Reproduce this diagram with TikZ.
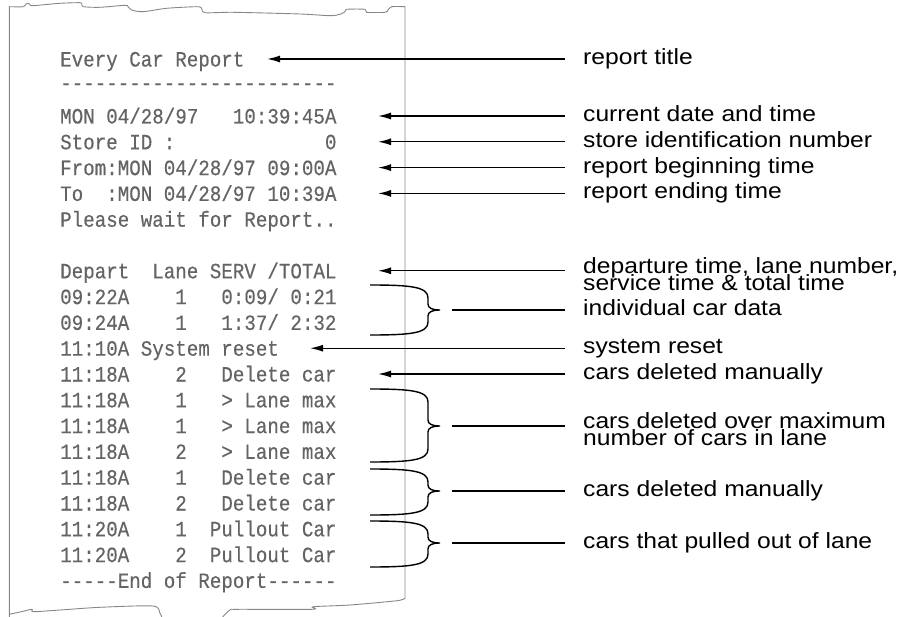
\documentclass[tikz,border=0pt]{standalone}
\usepackage{fontspec}
\setmainfont[FakeStretch=1.12]{Liberation Sans}
\setmonofont[FakeStretch=0.88,FakeBold=0.4]{Liberation Mono}
\usetikzlibrary{arrows.meta}
\definecolor{rgray}{RGB}{100,100,100}
\definecolor{egray}{RGB}{135,135,135}
\newcommand\mybrace[3]{%
  \draw[brc] (370,#1) .. controls (412,#1) and (428,#1+2) .. (428,#1+13)
    -- (428,#2-6) .. controls (428,#2-2) and (432,#2) .. (440,#2)
    .. controls (432,#2) and (428,#2+2) .. (428,#2+6)
    -- (428,#3-13) .. controls (428,#3-2) and (412,#3) .. (370,#3);}
\begin{document}
\begin{tikzpicture}[x=1pt,y=-1pt,
  rt/.style={anchor=base west, inner sep=0pt, text=rgray, font=\ttfamily\fontsize{21.8}{24}\selectfont},
  lt/.style={anchor=base west, inner sep=0pt, font=\rmfamily\fontsize{22}{16}\selectfont},
  arr/.style={-{Latex[length=13pt,width=7pt]}, line width=1.4pt},
  lnk/.style={line width=1.4pt},
  brc/.style={line width=1.4pt},
  edge/.style={draw=egray, line width=0.9pt}]
\useasboundingbox (0,0) rectangle (917,617);

% receipt outline
\draw[edge] (9.3,625) -- (9.3,6.7) -- plot[smooth,tension=0.45] coordinates {(9.3,6.7)(23.3,6.7)(26,4)(28.3,3.3)(30,4.7)(33,5.7)(60,3.3)(80,2.7)(81.7,4)(83.3,6.7)(100,7.3)(125,5.3)(128,6.7)(131.7,10)(143,11.7)(166.7,8.3)(196.7,6.7)(201.7,8.3)(205,12.7)(233,12.3)(300,14)(330,15.7)(340,14.3)(345,11.7)(346.7,9.3)(365,9.3)(366.7,12.3)(385,12.3)(388,10)(391.7,6.7)(405,6.7)}
  -- (405,598.3) -- plot[smooth,tension=0.45] coordinates {(405,598.3)(397,600.7)(350,605)(313.3,606.7)(312,609.3)(238,609.3)(230,610)(222,618)(221,625)};
\draw[edge] plot[smooth,tension=0.45] coordinates {(9.3,614.3)(20,612)(32,609.3)(33.3,611.7)(60,610)(100,607.3)(153,606)(160,613.3)(162,618)(163,625)};

% receipt text
\node[rt] (r0) at (60,66.5) {Every Car Report};
\node[rt] (r1) at (60,90) {------------------------};
\node[rt] (r2) at (60,123.5) {MON 04/28/97~~~10:39:45A};
\node[rt] (r3) at (60,149.3) {Store ID :~~~~~~~~~~~~~0};
\node[rt] (r4) at (60,175.1) {From:MON 04/28/97 09:00A};
\node[rt] (r5) at (60,200.9) {To~~:MON 04/28/97 10:39A};
\node[rt] (r6) at (60,226.7) {Please wait for Report..};
\node[rt] (r7) at (60,278.3) {Depart~~Lane SERV /TOTAL};
\node[rt] (r8) at (60,304.1) {09:22A~~~~1~~~0:09/ 0:21};
\node[rt] (r9) at (60,329.9) {09:24A~~~~1~~~1:37/ 2:32};
\node[rt] (r10) at (60,355.7) {11:10A System reset};
\node[rt] (r11) at (60,381.5) {11:18A~~~~2~~~Delete car};
\node[rt] (r12) at (60,407.3) {11:18A~~~~1~~~> Lane max};
\node[rt] (r13) at (60,433.1) {11:18A~~~~1~~~> Lane max};
\node[rt] (r14) at (60,458.9) {11:18A~~~~2~~~> Lane max};
\node[rt] (r15) at (60,484.7) {11:18A~~~~1~~~Delete car};
\node[rt] (r16) at (60,510.5) {11:18A~~~~2~~~Delete car};
\node[rt] (r17) at (60,536.3) {11:20A~~~~1~~Pullout Car};
\node[rt] (r18) at (60,562.1) {11:20A~~~~2~~Pullout Car};
\node[rt] (r19) at (60,587.9) {-----End of Report------};

% labels
\node[lt] (l0) at (583,64.5) {report title};
\node[lt] (l1) at (583,121.5) {current date and time};
\node[lt] (l2) at (583,147.3) {store identification number};
\node[lt] (l3) at (583,173.1) {report beginning time};
\node[lt] (l4) at (583,198.9) {report ending time};
\node[lt] (l5a) at (583,273.3) {departure time, lane number,};
\node[lt] (l5b) at (583,290.3) {service time \& total time};
\node[lt] (l6) at (583,315.5) {individual car data};
\node[lt] (l7) at (583,353.7) {system reset};
\node[lt] (l8) at (583,379.5) {cars deleted manually};
\node[lt] (l9a) at (583,428.5) {cars deleted over maximum};
\node[lt] (l9b) at (583,445.5) {number of cars in lane};
\node[lt] (l10) at (583,496.5) {cars deleted manually};
\node[lt] (l11) at (583,548.5) {cars that pulled out of lane};

% arrow coordinates
\coordinate (a0s) at (565,59);    \coordinate (a0e) at (267,59);
\coordinate (a1s) at (565,116);   \coordinate (a1e) at (378,116);
\coordinate (a2s) at (565,141.8); \coordinate (a2e) at (378,141.8);
\coordinate (a3s) at (565,167.6); \coordinate (a3e) at (378,167.6);
\coordinate (a4s) at (565,193.4); \coordinate (a4e) at (378,193.4);
\coordinate (a5s) at (565,270.8); \coordinate (a5e) at (378,270.8);
\coordinate (a7s) at (565,348.2); \coordinate (a7e) at (310,348.2);
\coordinate (a8s) at (565,374);   \coordinate (a8e) at (378,374);
\foreach \i in {0,1,2,3,4,5,7,8} \draw[arr] (a\i s) -- (a\i e);

% braces and their lines
\mybrace{285}{310}{335}
\mybrace{389}{426}{462}
\mybrace{469}{491}{515}
\mybrace{521}{543}{567}
\coordinate (b1s) at (452,310); \coordinate (b1e) at (565,310);
\coordinate (b2s) at (452,426); \coordinate (b2e) at (565,426);
\coordinate (b3s) at (452,491); \coordinate (b3e) at (565,491);
\coordinate (b4s) at (452,543); \coordinate (b4e) at (565,543);
\foreach \i in {1,2,3,4} \draw[lnk] (b\i s) -- (b\i e);
\end{tikzpicture}
\end{document}
